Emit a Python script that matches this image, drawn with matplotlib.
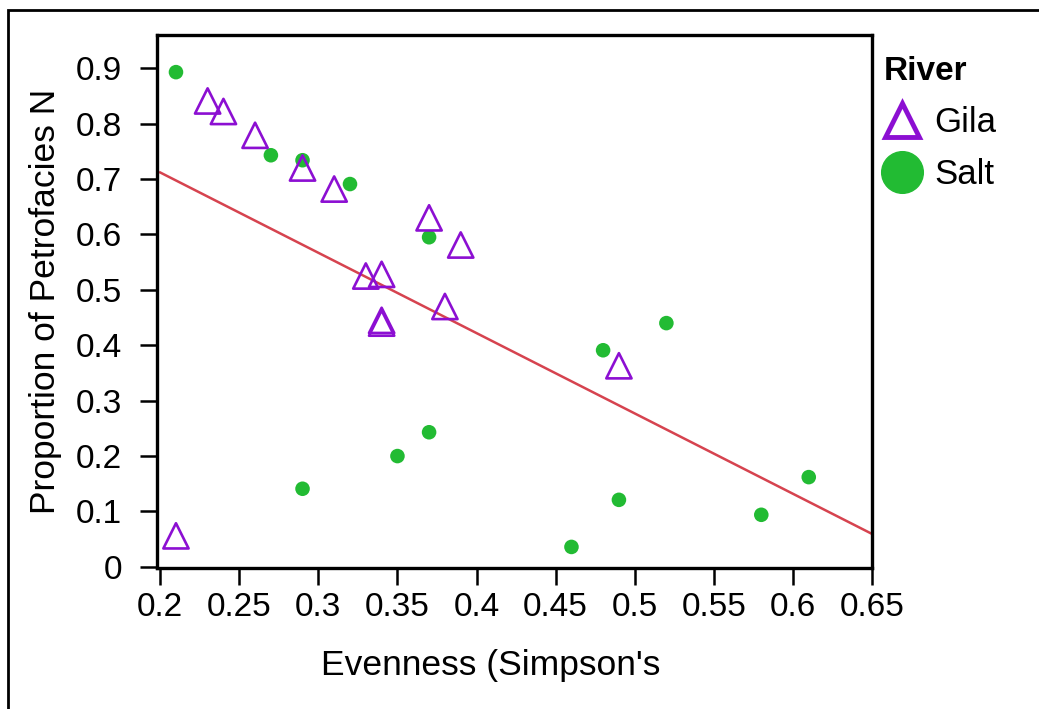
import numpy as np
import matplotlib.pyplot as plt
from matplotlib.lines import Line2D
from matplotlib.patches import Rectangle

plt.rcParams['font.family'] = ['Liberation Sans', 'DejaVu Sans']

# Salt river samples
salt_x = [0.21, 0.27, 0.29, 0.32, 0.37, 0.48, 0.52, 0.37, 0.35, 0.29, 0.49, 0.46, 0.58, 0.61]
salt_y = [0.893, 0.743, 0.734, 0.691, 0.595, 0.391, 0.44, 0.243, 0.2, 0.141, 0.121, 0.036, 0.094, 0.162]

# Gila river samples
gila_x = [0.23, 0.24, 0.26, 0.29, 0.31, 0.37, 0.39, 0.33, 0.34, 0.34, 0.34, 0.38, 0.49, 0.21]
gila_y = [0.841, 0.822, 0.779, 0.72, 0.682, 0.63, 0.581, 0.525, 0.528, 0.445, 0.44, 0.47, 0.363, 0.056]

xticks = [0.2, 0.25, 0.3, 0.35, 0.4, 0.45, 0.5, 0.55, 0.6, 0.65]
yticks = [0, 0.1, 0.2, 0.3, 0.4, 0.5, 0.6, 0.7, 0.8, 0.9]

purple = '#8c0fd2'
green = '#22bb33'
red = '#d6434f'

fig = plt.figure(figsize=(10.39, 7.09), dpi=100)
ax = fig.add_axes([0.1511, 0.1989, 0.6882, 0.7517])

# linear fit over both rivers
all_x = np.array(salt_x + gila_x)
all_y = np.array(salt_y + gila_y)
slope, icpt = np.polyfit(all_x, all_y, 1)
lx = np.array([0.2, 0.65])
ax.plot(lx, icpt + slope * lx, color=red, lw=1.8, zorder=2)

ax.scatter(salt_x, salt_y, s=110, color=green, edgecolors='none', zorder=3)
ax.scatter(gila_x, gila_y, s=330, marker='^', facecolors='none',
           edgecolors=purple, linewidths=1.9, zorder=4)

ax.set_xlim(0.198, 0.65)
ax.set_ylim(-0.002, 0.96)
ax.set_xticks(xticks)
ax.set_xticklabels([f'{v:g}' for v in xticks])
ax.set_yticks(yticks)
ax.set_yticklabels([f'{v:g}' for v in yticks])
ax.tick_params(labelsize=24, length=12, width=1.8)
ax.tick_params(axis='x', pad=5)
ax.tick_params(axis='y', pad=13)
for sp in ax.spines.values():
    sp.set_linewidth(2.4)

ax.set_xlabel("Evenness (Simpson's", fontsize=25.5, labelpad=19)
ax.xaxis.label.set_x(0.466)
ax.set_ylabel('Proportion of Petrofacies N', fontsize=25.5, labelpad=10)

handles = [
    Line2D([], [], marker='^', ls='none', markersize=24, markerfacecolor='none',
           markeredgecolor=purple, markeredgewidth=3.5, label='Gila'),
    Line2D([], [], marker='o', ls='none', markersize=30, color=green, label='Salt'),
]
leg = fig.legend(handles=handles, title='River', loc='upper left',
                 bbox_to_anchor=(0.851, 0.921), frameon=False, fontsize=25,
                 title_fontproperties={'weight': 'bold', 'size': 24},
                 alignment='left', handletextpad=0.45, labelspacing=0.55,
                 handlelength=1.0, borderaxespad=0, borderpad=0)

# outer frame
fig.add_artist(Rectangle((0.0077, -0.2), 1.2, 1.1859, transform=fig.transFigure,
                         fill=False, lw=2, ec='black', clip_on=False))

fig.savefig('out.png', dpi=100)
